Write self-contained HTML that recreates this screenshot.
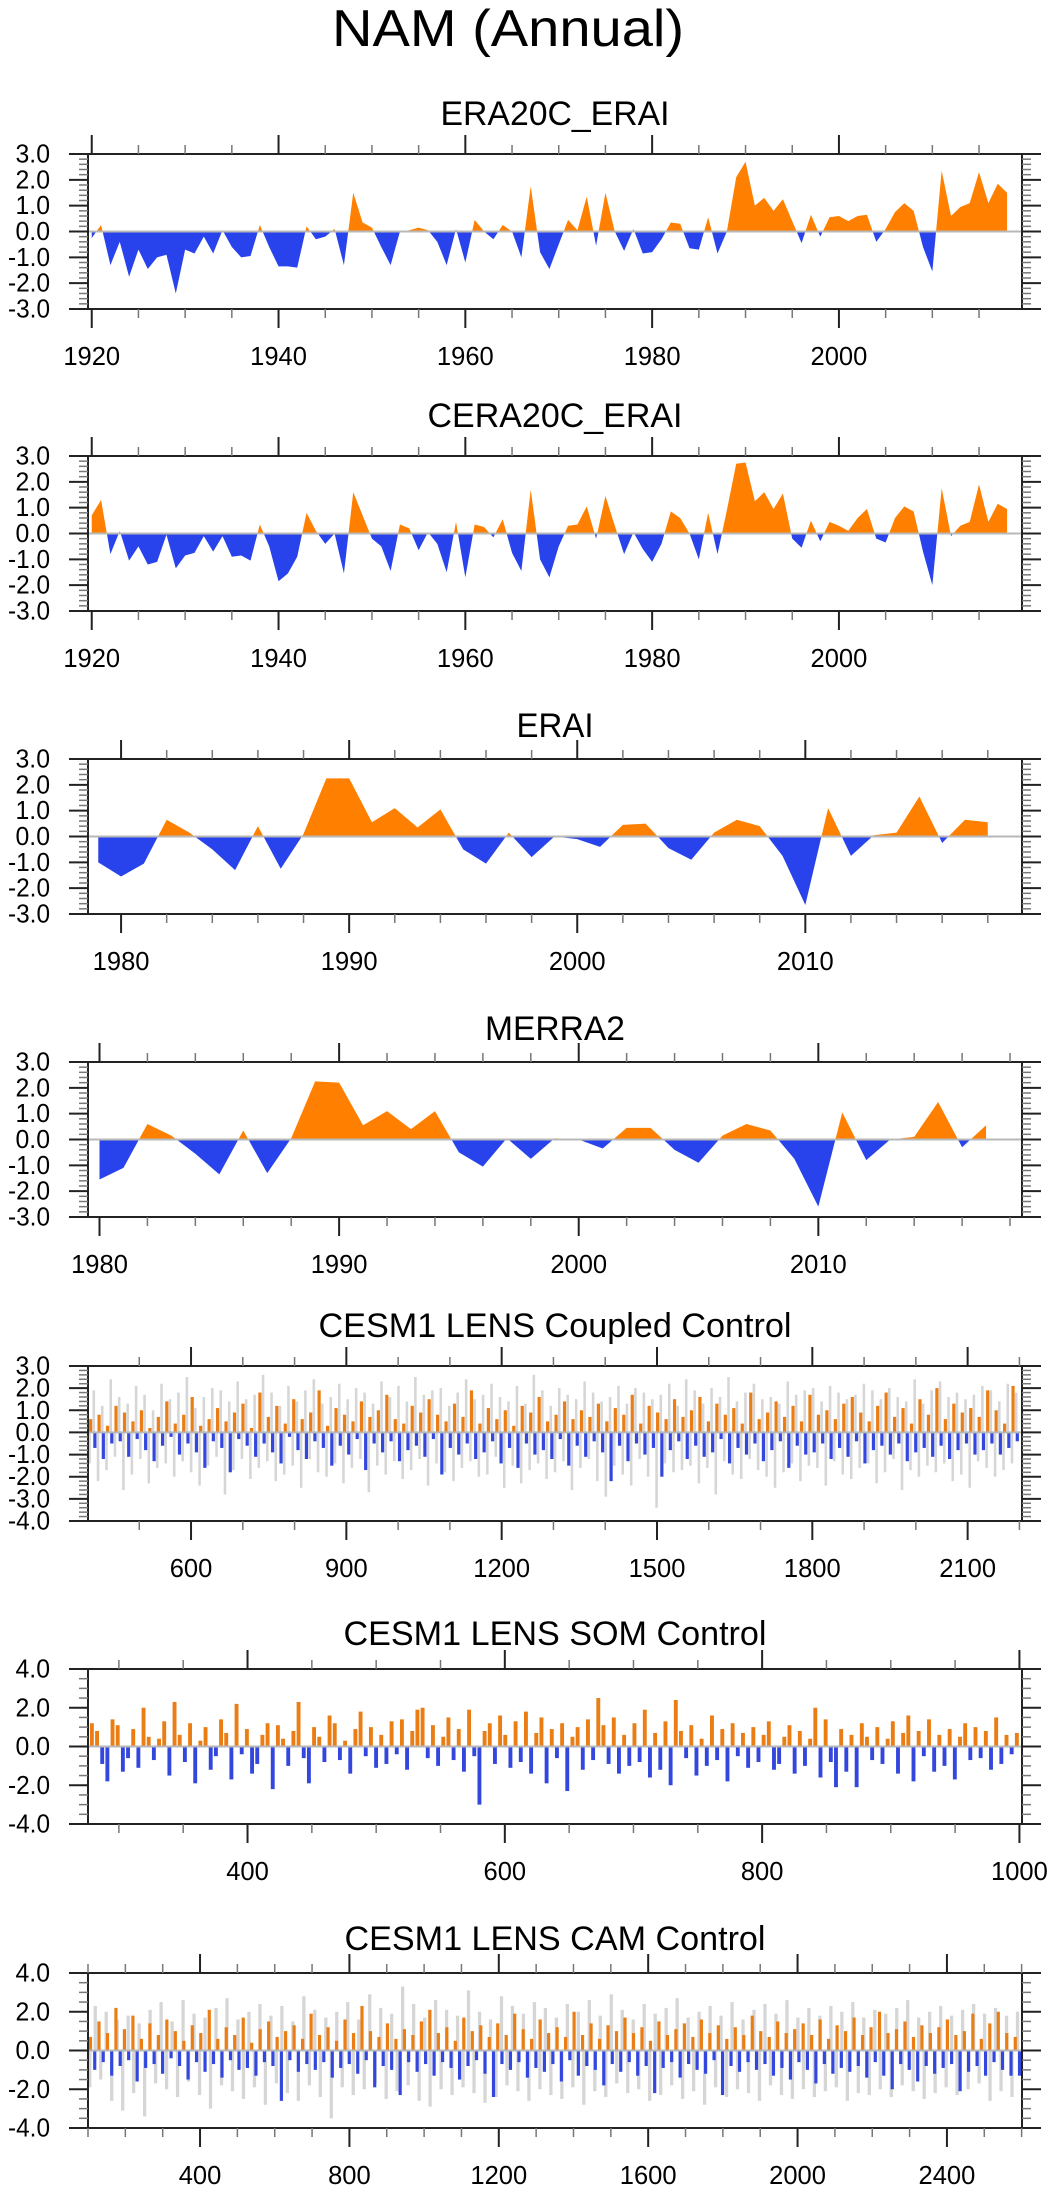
<!DOCTYPE html>
<html><head><meta charset="utf-8">
<style>
html,body{margin:0;padding:0;background:#fff;}
svg{display:block;font-family:"Liberation Sans",Arial,sans-serif;}
</style></head>
<body>
<svg id="chart" width="1049" height="2191" viewBox="0 0 1049 2191" xmlns="http://www.w3.org/2000/svg">
<rect width="1049" height="2191" fill="#fff"/>
<text x="508" y="46" font-size="52" text-anchor="middle" textLength="352" lengthAdjust="spacingAndGlyphs">NAM (Annual)</text>
</svg>
<script>
// ---- data ----
const era20cYears0 = 1920;
const era20cValues = [-0.25,0.25,-1.3,-0.4,-1.75,-0.7,-1.45,-1.0,-0.9,-2.4,-0.7,-0.85,-0.2,-0.85,0.05,-0.6,-1.0,-0.95,0.25,-0.6,-1.35,-1.35,-1.4,0.2,-0.3,-0.2,0.1,-1.3,1.5,0.35,0.15,-0.6,-1.3,0.0,0.05,0.15,0.05,-0.4,-1.3,0.1,-1.2,0.45,0.0,-0.3,0.25,0.0,-1.0,1.75,-0.8,-1.45,-0.5,0.45,0.05,1.35,-0.55,1.5,0.0,-0.75,0.1,-0.85,-0.8,-0.3,0.35,0.3,-0.65,-0.7,0.55,-0.85,0.0,2.1,2.7,1.0,1.3,0.8,1.25,0.4,-0.45,0.65,-0.2,0.55,0.6,0.4,0.6,0.65,-0.4,0.1,0.75,1.1,0.8,-0.6,-1.55,2.35,0.6,0.95,1.1,2.3,1.1,1.85,1.5];
const cera20cYears0 = 1920;
const cera20cValues = [0.7,1.3,-0.8,0.1,-1.05,-0.5,-1.2,-1.1,-0.05,-1.35,-0.85,-0.75,-0.1,-0.7,-0.1,-0.9,-0.85,-1.05,0.35,-0.5,-1.85,-1.55,-0.9,0.8,0.1,-0.4,0.0,-1.55,1.6,0.7,-0.2,-0.5,-1.45,0.35,0.2,-0.65,0.05,-0.4,-1.5,0.45,-1.7,0.35,0.25,-0.15,0.55,-0.75,-1.45,1.7,-1.0,-1.7,-0.5,0.3,0.35,1.05,-0.2,1.45,0.3,-0.8,0.05,-0.6,-1.1,-0.4,0.85,0.6,0.0,-1.0,0.8,-0.8,0.9,2.7,2.75,1.25,1.6,0.95,1.55,-0.2,-0.55,0.5,-0.3,0.45,0.3,0.1,0.6,0.95,-0.2,-0.35,0.6,1.05,0.85,-0.7,-2.0,1.75,-0.1,0.3,0.45,1.9,0.45,1.15,0.95];
const eraiYears0 = 1979;
const eraiValues = [-1.0,-1.55,-1.05,0.65,0.15,-0.5,-1.3,0.4,-1.25,0.1,2.25,2.25,0.55,1.1,0.35,1.05,-0.5,-1.05,0.15,-0.8,0.0,-0.1,-0.4,0.45,0.5,-0.45,-0.9,0.15,0.65,0.4,-0.75,-2.65,1.1,-0.75,0.05,0.15,1.55,-0.25,0.65,0.55];
const merra2Years0 = 1980;
const merra2Values = [-1.55,-1.1,0.6,0.15,-0.55,-1.35,0.35,-1.3,0.05,2.25,2.2,0.55,1.1,0.4,1.1,-0.5,-1.05,0.05,-0.75,0.05,0.0,-0.35,0.45,0.45,-0.4,-0.9,0.15,0.6,0.35,-0.75,-2.6,1.05,-0.8,0.0,0.1,1.45,-0.3,0.55];
const coupledColored = [0.6,-0.7,0.8,-1.2,0.3,-0.5,1.2,-0.4,0.9,-1.1,0.5,-0.3,1.0,-0.8,0.2,-1.3,0.7,-0.6,1.4,-0.2,0.4,-1.0,0.8,-0.5,1.6,-0.9,0.3,-1.6,0.6,-0.4,1.1,-0.7,0.5,-1.8,0.9,-0.3,1.3,-0.6,0.2,-1.1,1.8,-0.5,0.7,-0.9,1.2,-1.4,0.4,-0.2,1.5,-0.8,0.6,-1.2,0.9,-0.4,1.9,-0.7,0.3,-1.5,1.1,-0.6,0.8,-1.0,0.5,-0.3,1.4,-1.7,0.7,-0.5,1.0,-0.9,1.7,-0.4,0.6,-1.3,0.4,-0.8,1.2,-0.6,0.9,-1.1,1.5,-0.3,0.8,-1.9,0.5,-0.7,1.3,-1.0,0.7,-0.5,1.9,-1.2,0.4,-0.9,1.1,-0.4,0.6,-1.4,1.0,-0.7,0.3,-1.6,1.2,-0.5,0.9,-1.0,1.6,-0.8,0.5,-1.2,0.8,-0.3,1.4,-1.5,0.6,-0.6,1.0,-1.1,0.7,-0.4,1.3,-0.9,0.5,-2.2,1.1,-0.6,0.8,-1.3,1.7,-0.5,0.4,-1.0,1.2,-0.7,0.9,-2.0,0.6,-0.8,1.5,-0.4,0.7,-1.2,1.0,-0.6,1.6,-1.1,0.5,-0.9,1.3,-0.3,0.8,-1.4,1.1,-0.7,0.4,-1.0,1.8,-0.5,0.6,-1.3,0.9,-0.8,1.4,-0.4,0.7,-1.6,1.2,-0.6,0.5,-1.0,1.7,-0.9,0.8,-0.5,1.0,-1.2,0.6,-0.7,1.3,-1.1,1.6,-0.4,0.9,-1.4,0.5,-0.8,1.2,-0.6,1.8,-1.0,0.7,-0.5,1.1,-1.3,0.4,-0.9,1.5,-0.7,0.8,-1.1,2.0,-0.6,0.6,-1.2,1.3,-0.8,0.9,-0.5,1.1,-1.0,0.7,-0.8,1.9,-0.5,1.0,-1.0,0.4,-0.7,2.1,-0.4];
const coupledGray = [-1.4,1.9,-2.2,1.2,-1.7,2.4,-1.1,1.6,-2.6,1.3,-1.9,2.1,-1.2,1.7,-2.3,1.0,-1.6,2.2,-1.4,1.5,-2.0,1.8,-1.3,2.5,-1.8,1.1,-2.4,1.6,-1.5,2.0,-1.1,1.9,-2.8,1.4,-1.7,2.3,-1.2,1.5,-2.1,1.7,-1.6,2.6,-1.3,1.8,-2.2,1.2,-1.9,2.1,-1.5,1.4,-2.5,1.9,-1.2,2.4,-1.8,1.3,-2.0,1.6,-1.4,2.2,-2.3,1.5,-1.6,2.0,-1.2,1.8,-2.7,1.3,-1.5,2.3,-1.9,1.6,-1.3,2.1,-2.1,1.4,-1.7,2.5,-1.2,1.7,-2.4,1.9,-1.4,2.0,-1.8,1.2,-2.2,1.8,-1.6,2.4,-1.3,1.5,-2.0,1.7,-1.9,2.2,-1.1,1.6,-2.5,1.4,-1.5,2.1,-2.3,1.3,-1.7,2.6,-1.4,1.9,-2.1,1.2,-1.8,2.0,-1.3,1.7,-2.6,1.5,-1.6,2.3,-1.2,1.8,-2.2,1.4,-2.9,1.6,-1.5,2.1,-1.9,1.3,-2.4,2.0,-1.2,1.8,-2.0,1.5,-3.4,1.7,-1.4,2.2,-1.8,1.2,-1.7,2.4,-1.5,1.9,-2.3,1.3,-1.6,2.0,-2.8,1.6,-1.3,2.5,-1.9,1.4,-2.1,1.8,-1.2,2.2,-1.7,1.5,-2.0,1.6,-2.5,1.3,-1.8,2.3,-1.4,1.7,-2.2,1.9,-1.5,2.0,-1.6,1.4,-2.4,2.1,-1.3,1.8,-1.9,1.5,-2.1,1.7,-1.6,2.2,-1.4,1.9,-2.3,1.5,-1.8,2.0,-1.2,1.6,-2.6,1.4,-1.7,2.4,-2.0,1.3,-1.5,1.9,-1.8,2.3,-1.4,1.6,-2.2,1.8,-1.9,1.5,-2.5,1.7,-1.3,2.1,-1.6,1.9,-2.0,1.4,-1.7,2.2,-1.4,1.8];
const somColored = [1.2,0.8,-0.9,-1.8,1.4,1.1,-1.3,-0.6,0.9,-1.1,2.0,0.5,-0.7,0.4,1.3,-1.5,2.3,0.6,-0.8,1.2,-1.9,0.3,1.0,-1.2,-0.5,1.4,0.7,-1.7,2.2,-0.4,0.9,-1.4,-0.9,0.6,1.2,-2.2,1.1,0.4,-1.0,0.8,2.3,-0.6,-1.9,1.0,0.5,-0.8,1.6,1.2,-0.7,0.3,-1.4,0.9,1.8,-0.5,1.0,-1.1,0.6,-0.9,1.3,-0.4,1.4,-1.2,0.8,1.9,2.0,-0.6,1.1,-1.0,0.5,1.5,-0.7,0.9,-1.3,1.9,-0.5,-3.0,0.8,1.2,-0.9,1.6,0.6,-1.1,1.3,-0.8,1.8,-1.4,0.7,1.5,-1.9,0.9,-0.6,1.2,-2.3,0.5,1.0,-1.2,1.4,-0.7,2.5,1.1,-0.9,1.5,-1.4,0.6,-1.0,1.2,-0.8,1.9,-1.6,0.7,-1.2,1.3,-2.0,2.4,0.8,-0.6,1.1,-1.5,0.4,-1.0,1.6,-0.7,0.9,-1.8,1.2,-0.5,0.7,-1.1,1.0,-0.8,0.6,1.3,-1.2,-0.9,0.5,1.1,-1.4,0.8,-1.0,0.4,2.0,-1.6,1.4,-0.8,-2.1,0.9,-1.3,0.6,-2.1,1.2,0.5,-0.7,1.0,-0.9,0.4,1.3,-1.4,0.7,1.6,-1.8,0.8,-0.5,1.4,-1.3,0.6,-1.0,0.9,-1.7,0.5,1.2,-0.7,1.0,-0.6,0.8,-1.2,1.5,-0.9,0.6,-0.4,0.7];
const camColored = [0.7,-1.0,1.5,-0.6,0.9,-1.3,2.2,-0.8,1.1,-0.5,1.8,-1.6,0.6,-0.9,1.4,-0.7,0.8,-1.2,1.6,-0.4,1.0,-0.8,0.5,-1.5,1.3,-0.6,0.9,-1.1,2.1,-0.7,0.6,-1.4,1.2,-0.5,0.8,-1.0,1.7,-0.9,0.4,-1.3,1.1,-0.6,1.5,-0.8,0.7,-2.6,1.0,-0.5,1.3,-1.1,0.6,-0.7,1.9,-1.0,0.8,-0.6,1.2,-1.4,0.5,-0.9,1.6,-0.7,0.9,-1.2,2.3,-0.5,1.0,-1.9,0.7,-0.8,1.4,-1.0,0.6,-2.3,1.1,-0.6,0.8,-1.1,1.5,-0.7,2.1,-1.3,0.9,-0.6,1.2,-0.9,0.5,-1.5,1.7,-0.8,1.0,-0.5,1.3,-1.2,0.7,-2.4,1.4,-0.7,0.8,-1.0,1.9,-0.6,1.1,-1.4,0.6,-0.9,1.6,-1.1,0.9,-0.7,1.2,-1.6,0.7,-0.5,2.0,-1.3,0.8,-0.8,1.4,-1.0,0.6,-1.8,1.3,-0.7,1.0,-1.1,1.7,-0.6,0.9,-1.3,1.2,-0.8,0.5,-2.2,1.5,-0.9,0.8,-0.6,1.1,-1.4,1.4,-0.7,0.7,-1.0,1.6,-1.2,0.9,-0.5,1.3,-2.3,0.6,-0.8,1.2,-1.1,0.8,-0.6,1.8,-1.0,1.0,-0.7,0.7,-1.3,1.5,-0.9,0.9,-1.5,1.1,-0.6,1.4,-1.0,0.8,-1.7,1.6,-0.7,0.6,-1.2,1.3,-0.9,1.0,-1.1,1.7,-0.8,0.8,-1.4,1.2,-0.6,2.0,-1.3,0.9,-2.0,1.1,-0.7,1.5,-1.0,0.7,-1.6,1.3,-0.8,0.9,-1.2,1.2,-0.9,1.6,-0.7,0.8,-2.1,1.0,-1.1,1.9,-0.8,0.6,-1.3,1.4,-0.6,2.0,-1.0,0.9,-1.3,0.7,-1.3];
const camGray = [-1.9,2.3,-1.5,2.0,-2.6,1.6,-3.1,1.8,-2.2,1.4,-3.4,2.1,-1.7,2.5,-2.0,1.5,-2.4,2.6,-1.6,1.9,-2.3,1.7,-3.0,2.2,-1.8,2.7,-2.1,1.6,-2.5,2.0,-1.9,2.4,-2.8,1.8,-1.7,2.3,-2.2,1.5,-2.6,2.8,-1.8,2.1,-2.4,1.7,-3.5,2.0,-1.9,2.5,-2.3,1.6,-2.0,2.9,-1.7,2.2,-2.5,1.9,-2.1,3.3,-1.8,2.4,-2.6,1.7,-2.9,2.6,-2.0,2.1,-2.3,1.8,-1.9,3.1,-2.2,2.0,-2.7,1.6,-2.4,2.8,-1.8,2.3,-2.1,1.9,-2.6,2.5,-2.0,2.2,-2.3,1.7,-2.5,2.4,-1.9,2.0,-2.8,2.6,-2.1,1.8,-2.4,2.9,-1.7,2.1,-2.2,1.6,-2.0,2.4,-2.6,1.9,-2.3,2.2,-1.8,2.7,-2.5,1.7,-2.1,2.0,-2.8,2.3,-1.9,1.8,-2.4,2.5,-2.0,1.6,-2.2,2.1,-2.6,2.4,-1.8,1.9,-2.3,2.6,-2.5,1.7,-2.0,2.2,-2.4,1.8,-2.1,2.3,-1.9,2.0,-2.6,2.5,-2.2,1.7,-2.3,2.1,-2.0,1.9,-2.4,2.2,-1.8,2.6,-2.1,1.7,-2.5,2.0,-2.2,2.3,-1.9,1.8,-2.3,2.1,-2.0,2.4,-1.7,1.9,-2.6,2.2,-2.1,1.8,-2.4,2.0];

// ---- panel layout (geometry only) ----
const L = 88, R = 1022, H = 155;
const panels = [
 {id:'era20c-erai', title:'ERA20C_ERAI', tw:229, top:154, tdy:41, xmin:1919.6, xmax:2019.6, xmaj:20, xmin_:5, xlab0:1920, ymin:-3, ymax:3, ymaj:1, yminr:0.2, kind:'area', vals:era20cValues, y0:era20cYears0},
 {id:'cera20c-erai', title:'CERA20C_ERAI', tw:255, top:456, tdy:41, xmin:1919.6, xmax:2019.6, xmaj:20, xmin_:5, xlab0:1920, ymin:-3, ymax:3, ymaj:1, yminr:0.2, kind:'area', vals:cera20cValues, y0:cera20cYears0},
 {id:'erai', title:'ERAI', tw:77, top:759, tdy:34, xmin:1978.55, xmax:2019.5, xmaj:10, xmin_:2, xlab0:1980, ymin:-3, ymax:3, ymaj:1, yminr:0.2, kind:'area', vals:eraiValues, y0:eraiYears0},
 {id:'merra2', title:'MERRA2', tw:140, top:1062, tdy:34, xmin:1979.52, xmax:2018.5, xmaj:10, xmin_:2, xlab0:1980, ymin:-3, ymax:3, ymaj:1, yminr:0.2, kind:'area', vals:merra2Values, y0:merra2Years0},
 {id:'cesm-coupled', title:'CESM1 LENS Coupled Control', tw:473, top:1366, tdy:41, xmin:401, xmax:2205, xmaj:300, xmin_:100, xlab0:600, ymin:-4, ymax:3, ymaj:1, yminr:0.2, kind:'bars', vals:coupledColored, gray:coupledGray, span:[402,2200]},
 {id:'cesm-som', title:'CESM1 LENS SOM Control', tw:423, top:1669, tdy:36, xmin:276, xmax:1002, xmaj:200, xmin_:50, xlab0:400, ymin:-4, ymax:4, ymaj:2, yminr:0.5, kind:'bars', vals:somColored, gray:null, span:[277,1000]},
 {id:'cesm-cam', title:'CESM1 LENS CAM Control', tw:421, top:1973, tdy:35, xmin:100, xmax:2601, xmaj:400, xmin_:100, xlab0:400, ymin:-4, ymax:4, ymaj:2, yminr:0.5, kind:'bars', vals:camColored, gray:camGray, span:[101,2600]}
];
const NS = 'http://www.w3.org/2000/svg';
const svg = document.getElementById('chart');
function mk(tag, attrs, parent){
  const e = document.createElementNS(NS, tag);
  for (const k in attrs) e.setAttribute(k, attrs[k]);
  (parent||svg).appendChild(e);
  return e;
}
function fmt(v, dec){ return v.toFixed(dec); }

panels.forEach((p, pi) => {
  const B = p.top + H;
  const xs = v => L + (v - p.xmin) / (p.xmax - p.xmin) * (R - L);
  const ys = v => B - (v - p.ymin) / (p.ymax - p.ymin) * H;
  const g = mk('g', {});
  
  

  const t = mk('text', {x:555, y:p.top - p.tdy + 12, 'font-size':34, 'text-anchor':'middle', textLength:p.tw, lengthAdjust:'spacingAndGlyphs'}, g);
  t.textContent = p.title;
  
  

  const clipA = 'ca' + pi, clipB = 'cb' + pi, clipP = 'cp' + pi;
  const defs = mk('defs', {}, g);
  const cA = mk('clipPath', {id:clipA}, defs); mk('rect', {x:L, y:p.top, width:R-L, height:ys(0)-p.top}, cA);
  const cB = mk('clipPath', {id:clipB}, defs); mk('rect', {x:L, y:ys(0), width:R-L, height:B-ys(0)}, cB);
  const cP = mk('clipPath', {id:clipP}, defs); mk('rect', {x:L, y:p.top, width:R-L, height:H}, cP);

  if (p.kind === 'area') {
    let d = 'M' + xs(p.y0) + ',' + ys(0);
    p.vals.forEach((v, i) => { d += 'L' + xs(p.y0 + i).toFixed(2) + ',' + ys(v).toFixed(2); });
    d += 'L' + xs(p.y0 + p.vals.length - 1) + ',' + ys(0) + 'Z';
    const up = mk('path', {d:d, fill:'#ff8000', 'clip-path':'url(#' + clipA + ')'}, g);
    
    
    const dn = mk('path', {d:d, fill:'#2843eb', 'clip-path':'url(#' + clipB + ')'}, g);
    
    
  } else {
    const bg = mk('g', {'clip-path':'url(#' + clipP + ')'}, g);
    if (p.gray) {
      const n = p.gray.length, st = (p.span[1] - p.span[0]) / n;
      const pw = (R - L) / n;
      p.gray.forEach((v, i) => {
        const x = xs(p.span[0] + (i + 0.25) * st);
        const r = mk('rect', {x:x - pw*0.3, y:Math.min(ys(v), ys(0)), width:pw*0.6, height:Math.abs(ys(v) - ys(0)), fill:'#d6d6d6'}, bg);
        
        
      });
    }
    const n = p.vals.length, st = (p.span[1] - p.span[0]) / n;
    p.vals.forEach((v, i) => {
      const x = xs(p.span[0] + (i + 0.5) * st);
      const w = (R - L) / n * 0.75;
      const r = mk('rect', {x:x - w/2, y:Math.min(ys(v), ys(0)), width:w, height:Math.abs(ys(v) - ys(0)), fill: v >= 0 ? '#ea7d14' : '#3347de'}, bg);
      
      
    });
  }
  const z = mk('line', {x1:L, x2:R, y1:ys(0), y2:ys(0), stroke:'#b8b8b8', 'stroke-width':2}, g);
  
  

  const fr = mk('rect', {x:L, y:p.top, width:R-L, height:H, fill:'none', stroke:'#222', 'stroke-width':2}, g);
  
  

  const nY = Math.round((p.ymax - p.ymin) / p.yminr);
  for (let k = 0; k <= nY; k++) {
    const v = p.ymin + k * p.yminr;
    const maj = Math.abs(v / p.ymaj - Math.round(v / p.ymaj)) < 1e-6;
    const len = maj ? 19 : 9, y = ys(v);
    mk('line', {x1:L - len, x2:L, y1:y, y2:y, stroke:maj ? '#222' : '#777', 'stroke-width':maj ? 2 : 1.5}, g);
    mk('line', {x1:R, x2:R + len, y1:y, y2:y, stroke:maj ? '#222' : '#777', 'stroke-width':maj ? 2 : 1.5}, g);
    if (maj) {
      const s = fmt(v, 1);
      const lab = mk('text', {x:50, y:y + 8.5, 'font-size':26, 'text-anchor':'end', textLength:s.length * 11.5 - (s[0] === '-' ? 4 : 0), lengthAdjust:'spacingAndGlyphs'}, g);
      lab.textContent = s;
      
      
    }
  }
  const first = Math.ceil(p.xmin / p.xmin_) * p.xmin_;
  for (let v = first; v <= p.xmax + 1e-6; v += p.xmin_) {
    const maj = ((v - p.xlab0) % p.xmaj + p.xmaj) % p.xmaj === 0;
    const len = maj ? 19 : 9, x = xs(v);
    mk('line', {x1:x, x2:x, y1:p.top - len, y2:p.top, stroke:maj ? '#222' : '#777', 'stroke-width':maj ? 2 : 1.5}, g);
    mk('line', {x1:x, x2:x, y1:B, y2:B + len, stroke:maj ? '#222' : '#777', 'stroke-width':maj ? 2 : 1.5}, g);
    if (maj) {
      const s = String(v);
      const lab = mk('text', {x:x, y:B + 56, 'font-size':26, 'text-anchor':'middle', textLength:s.length * 14.2, lengthAdjust:'spacingAndGlyphs'}, g);
      lab.textContent = s;
      
      
    }
  }
});
</script>
</body></html>
